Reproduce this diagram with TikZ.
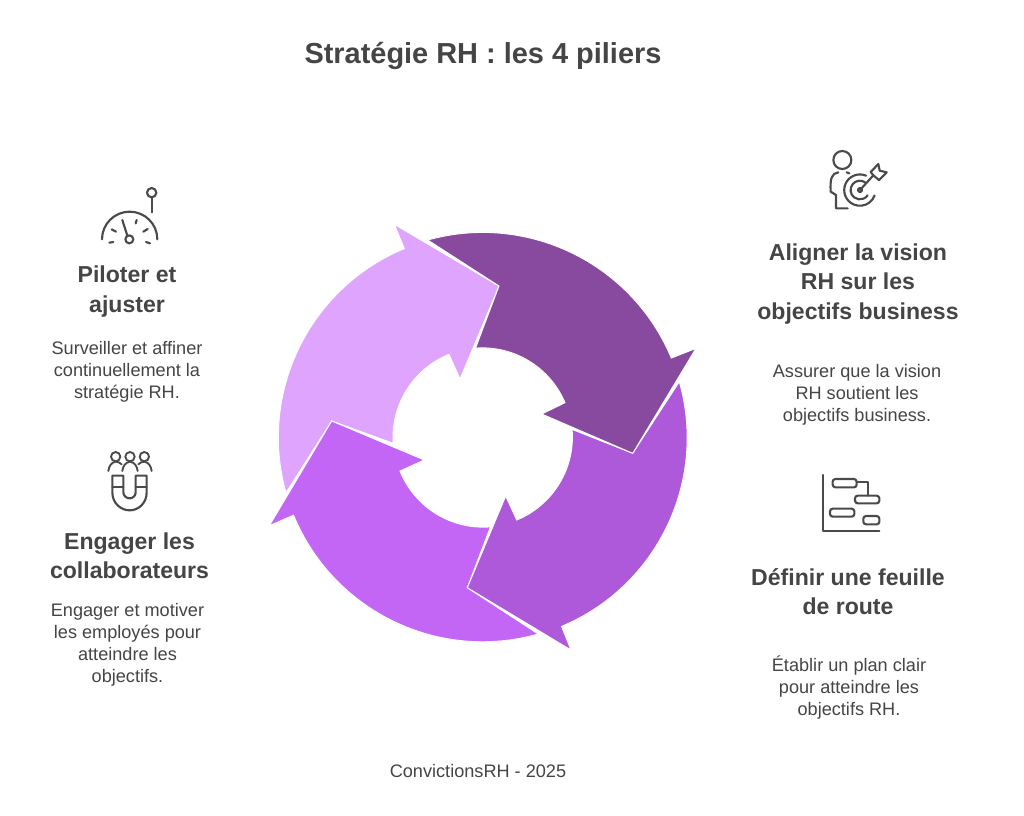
\documentclass[tikz,border=0pt]{standalone}
\usepackage{fontspec}
\setmainfont{Liberation Sans}
\definecolor{txt}{HTML}{454545}
\definecolor{ico}{HTML}{4A4A4A}
\definecolor{cdark}{HTML}{874A9F}
\definecolor{cmid}{HTML}{AE59D9}
\definecolor{cbright}{HTML}{C466F5}
\definecolor{clight}{HTML}{DFA4FD}
\tikzset{
 titletext/.style={text=txt,font=\bfseries\fontsize{21.7}{25}\selectfont,align=center,inner sep=0pt},
 headtext/.style={text=txt,font=\bfseries\fontsize{17.3}{22.1}\selectfont,align=center,inner sep=0pt},
 bodytext/.style={text=txt,font=\fontsize{13.6}{16.5}\selectfont,align=center,inner sep=0pt},
 foottext/.style={text=txt,font=\fontsize{13.6}{16}\selectfont,align=center,inner sep=0pt},
 seg/.style={draw=white,line width=0.7pt,line join=miter},
 icon/.style={draw=ico,line width=1.6pt,line cap=round,line join=round,fill=none},
 iconthin/.style={icon,line width=1.4pt}
}
\begin{document}
\begin{tikzpicture}[x=0.75pt,y=-0.75pt]
\useasboundingbox (0,0) rectangle (1024,815);
\fill[white] (0,0) rectangle (1024,815);
% ring arrows
\path[seg,fill=clight] (286,492.7) arc[start angle=164.3,end angle=247.4,radius=204.5]
  -- (394.3,224.3) -- (499,286) -- (460,379) -- (449,354.3)
  arc[start angle=247.9,end angle=176.3,radius=89.8] -- (331.7,421) -- cycle;
\path[seg,fill=cbright] (538.3,634) arc[start angle=74.2,end angle=157.6,radius=204.5]
  -- (269.3,525.7) -- (331.7,421) -- (424.3,460) -- (400,471)
  arc[start angle=158,end angle=85.4,radius=89.8] -- (467.3,587.7) -- cycle;
\path[seg,fill=cmid] (679.3,381.7) arc[start angle=-15.9,end angle=67.3,radius=204.5]
  -- (571,650) -- (467.3,587.7) -- (505.7,496) -- (516.7,520)
  arc[start angle=67.7,end angle=-4.8,radius=89.8] -- (632.7,453.3) -- cycle;
\path[seg,fill=cdark] (427.7,240) arc[start angle=-105.6,end angle=-22.7,radius=204.5]
  -- (696,348.3) -- (632.7,453.3) -- (541.7,414) -- (565,402.7)
  arc[start angle=-22.9,end angle=-94.3,radius=89.8] -- (499,286) -- cycle;
% texts
\node[titletext] (title) at (483,56) {Stratégie RH : les 4 piliers};
\node[headtext] (h1) at (858,284) {Aligner la vision\\RH sur les\\objectifs business};
\node[bodytext] (b1) at (857,394.5) {Assurer que la vision\\RH soutient les\\objectifs business.};
\node[headtext] (h2) at (848,591.5) {Définir une feuille\\de route};
\node[bodytext] (b2) at (849,688) {Établir un plan clair\\pour atteindre les\\objectifs RH.};
\node[headtext] (h3) at (129.5,555.5) {Engager les\\collaborateurs};
\node[bodytext] (b3) at (127.5,644.5) {Engager et motiver\\les employés pour\\atteindre les\\objectifs.};
\node[headtext] (h4) at (127,291.5) {Piloter et\\ajuster};
\node[bodytext] (b4) at (127,372) {Surveiller et affiner\\continuellement la\\stratégie RH.};
\node[foottext] (foot) at (478,771) {ConvictionsRH - 2025};
% target icon
\begin{scope}[shift={(810,140)},x=0.25pt,y=-0.25pt]
 \draw[icon] (97,60) circle[radius=27];
 \draw[icon] (85,97) .. controls (65,100) and (60,115) .. (62,155) -- (78,165) -- (78,205) -- (113,205);
 \draw[icon] (110,97) -- (118,100);
 \draw[icon] (168,107) arc[start angle=-67,end angle=-340,radius=47];
 \draw[icon] (167,128) arc[start angle=-52,end angle=-325,radius=28];
 \draw[icon] (150,150) circle[radius=6];
 \draw[icon] (150,150) -- (190,106);
 \draw[icon] (182,96) -- (205,72) -- (209,92) -- (230,97) -- (207,120) -- (190,106) -- cycle;
\end{scope}
% gantt icon
\begin{scope}[shift={(810,465)},x=0.25pt,y=-0.25pt]
 \draw[icon] (40,30) -- (40,198) -- (208,198);
 \draw[icon,rounded corners=2pt] (68,42) rectangle (140,67);
 \draw[icon,rounded corners=2pt] (135,92) rectangle (208,115);
 \draw[icon,rounded corners=2pt] (60,131) rectangle (133,155);
 \draw[icon,rounded corners=2pt] (160,153) rectangle (208,178);
 \draw[icon] (140,52) -- (175,52) -- (175,92);
\end{scope}
% gauge icon
\begin{scope}[shift={(90,180)},x=0.25pt,y=-0.25pt]
 \draw[icon] (36,178) arc[start angle=180,end angle=360,radius=83];
 \draw[icon] (118,178) circle[radius=12];
 \draw[icon] (112,167) -- (97,120);
 \draw[icon] (58,188) -- (70,186);
 \draw[icon] (65,148) -- (78,155);
 \draw[icon] (140,120) -- (137,130);
 \draw[icon] (173,147) -- (160,155);
 \draw[icon] (168,186) -- (180,190);
 \draw[icon] (185,38) circle[radius=14];
 \draw[icon] (185,52) -- (185,97);
\end{scope}
% magnet icon
\begin{scope}[shift={(95,445)},x=0.25pt,y=-0.25pt]
 \foreach \cx in {62,105,148} \draw[iconthin] (\cx,35) circle[radius=14];
 \draw[iconthin] (40,78) .. controls (42,62) and (50,52) .. (62,50) .. controls (68,50) and (74,52) .. (80,58);
 \draw[iconthin] (82,78) .. controls (84,62) and (92,52) .. (105,50) .. controls (118,52) and (126,62) .. (128,78);
 \draw[iconthin] (130,58) .. controls (136,52) and (142,50) .. (148,50) .. controls (160,52) and (168,62) .. (170,78);
 \draw[icon] (52,92) -- (52,142) .. controls (52,175) and (78,196) .. (104,196) .. controls (130,196) and (155,175) .. (155,142) -- (155,92) -- (122,92) -- (122,142) .. controls (122,152) and (114,160) .. (104,160) .. controls (94,160) and (85,152) .. (85,142) -- (85,92) -- cycle;
 \draw[icon] (52,125) -- (85,125);
 \draw[icon] (122,125) -- (155,125);
\end{scope}
\end{tikzpicture}
\end{document}
